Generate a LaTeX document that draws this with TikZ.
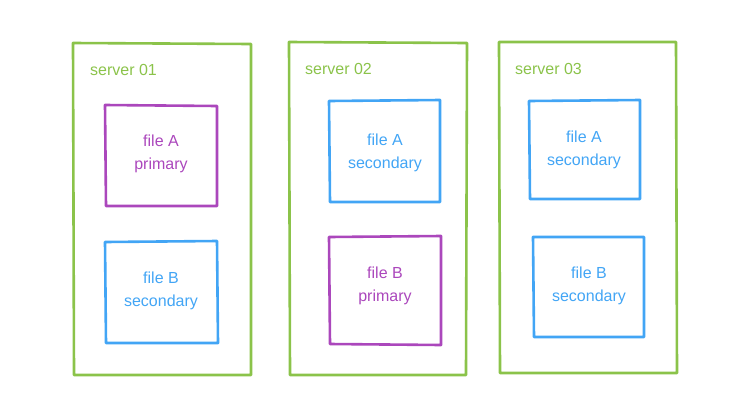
\documentclass[tikz,border=0pt]{standalone}
\usepackage{fontspec}
\setmainfont{Liberation Sans}
\definecolor{sgreen}{RGB}{139,195,74}
\definecolor{fpurple}{RGB}{171,71,188}
\definecolor{fblue}{RGB}{66,165,245}
\tikzset{
  server/.style={draw=sgreen, line width=2.6pt, line join=round},
  filebox/.style={line width=2.6pt, line join=round},
  primbox/.style={filebox, draw=fpurple},
  secbox/.style={filebox, draw=fblue},
  ftext/.style={align=center, font=\fontsize{16}{22.5}\selectfont},
  slabel/.style={text=sgreen, anchor=west, font=\fontsize{16}{19}\selectfont, inner sep=0pt}
}
\begin{document}
\begin{tikzpicture}[x=1pt,y=-1pt]
\useasboundingbox (0,0) rectangle (750,416);
% servers
\draw[server] (73,43) -- (251,44) -- (251,375) -- (74,375) -- cycle;
\draw[server] (289,42) -- (467,43) -- (466,375) -- (290,375) -- cycle;
\draw[server] (499,42) -- (676,42) -- (677,373) -- (500,373) -- cycle;
\node[slabel] (s1) at (90,70) {server 01};
\node[slabel] (s2) at (305,69) {server 02};
\node[slabel] (s3) at (515,69) {server 03};
% files
\draw[primbox] (105,105) -- (217,106) -- (217,206) -- (106,206) -- cycle;
\node[ftext, text=fpurple] (a1) at (161,154) {file A\\primary};
\draw[secbox] (105,242) -- (217,241) -- (218,343) -- (106,343) -- cycle;
\node[ftext, text=fblue] (b1) at (161,291) {file B\\secondary};
\draw[secbox] (329,101) -- (440,100) -- (440,202) -- (330,202) -- cycle;
\node[ftext, text=fblue] (a2) at (385,153) {file A\\secondary};
\draw[primbox] (329,237) -- (441,236) -- (441,345) -- (330,344) -- cycle;
\node[ftext, text=fpurple] (b2) at (385,286) {file B\\primary};
\draw[secbox] (529,101) -- (640,100) -- (640,199) -- (530,199) -- cycle;
\node[ftext, text=fblue] (a3) at (584,150) {file A\\secondary};
\draw[secbox] (533,237) -- (644,237) -- (644,337) -- (534,337) -- cycle;
\node[ftext, text=fblue] (b3) at (589,286) {file B\\secondary};
\end{tikzpicture}
\end{document}
